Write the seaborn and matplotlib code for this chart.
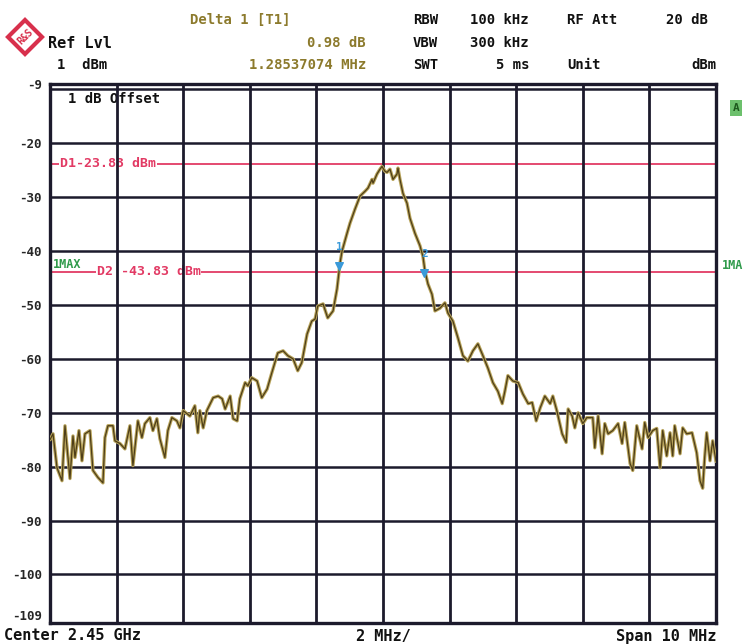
import matplotlib
matplotlib.use("Agg")
import matplotlib.pyplot as plt
import seaborn as sns
import numpy as np
import pandas as pd
from matplotlib.patches import Polygon

# ---------------- data ----------------
freq_offset_mhz = [
    -5.00, -4.955, -4.895, -4.82, -4.775, -4.70, -4.655, -4.625, -4.565, -4.52, -4.475, -4.40,
    -4.355, -4.28, -4.205, -4.175, -4.13, -4.055, -4.025, -3.95, -3.875, -3.80, -3.755, -3.68,
    -3.62, -3.575, -3.50, -3.455, -3.395, -3.35, -3.275, -3.23, -3.17, -3.095, -3.05, -3.00,
    -2.90, -2.825, -2.78, -2.75, -2.70, -2.645, -2.55, -2.475, -2.415, -2.37, -2.295, -2.25,
    -2.19, -2.15, -2.07, -2.03, -1.97, -1.89, -1.82, -1.74, -1.67, -1.58, -1.50, -1.43,
    -1.35, -1.28, -1.22, -1.14, -1.07, -1.02, -0.98, -0.90, -0.83, -0.75, -0.69, -0.645,
    -0.615, -0.54, -0.495, -0.42, -0.345, -0.27, -0.225, -0.165, -0.15, -0.09, -0.045, -0.015,
    0.03, 0.06, 0.105, 0.15, 0.21, 0.225, 0.255, 0.30, 0.36, 0.405, 0.48, 0.555,
    0.60, 0.63, 0.675, 0.735, 0.78, 0.855, 0.93, 0.975, 1.05, 1.125, 1.20, 1.275,
    1.35, 1.425, 1.50, 1.575, 1.65, 1.725, 1.79, 1.83, 1.875, 1.95, 2.03, 2.10,
    2.18, 2.24, 2.30, 2.36, 2.43, 2.51, 2.55, 2.61, 2.69, 2.75, 2.78, 2.84,
    2.88, 2.93, 3.00, 3.06, 3.15, 3.18, 3.23, 3.29, 3.33, 3.38, 3.45, 3.53,
    3.59, 3.63, 3.71, 3.75, 3.81, 3.89, 3.93, 3.98, 4.05, 4.11, 4.16, 4.20,
    4.26, 4.31, 4.35, 4.38, 4.46, 4.50, 4.56, 4.64, 4.71, 4.76, 4.80, 4.83,
    4.86, 4.91, 4.95, 5.00,
]
level_dbm = [
    -75.0, -73.9, -80.2, -82.6, -72.4, -82.2, -74.3, -78.3, -73.3, -78.9, -73.9, -73.3,
    -80.7, -82.0, -83.0, -74.6, -72.4, -72.4, -75.2, -75.7, -76.7, -72.4, -79.8, -71.5,
    -74.6, -72.0, -70.9, -73.3, -71.1, -74.8, -78.3, -73.3, -70.9, -71.5, -72.8, -69.6,
    -70.6, -68.7, -73.7, -69.6, -72.8, -69.6, -67.2, -66.9, -67.4, -69.3, -66.9, -71.1,
    -71.5, -67.4, -64.4, -65.0, -63.5, -64.1, -67.2, -65.6, -62.6, -58.9, -58.5, -59.4,
    -60.0, -62.2, -60.7, -55.4, -53.0, -52.6, -50.2, -49.8, -52.4, -51.1, -47.0, -42.2,
    -40.0, -36.7, -34.8, -32.2, -29.8, -28.9, -28.3, -26.7, -27.4, -25.7, -24.8, -24.3,
    -25.2, -25.4, -24.8, -26.7, -25.7, -24.6, -26.7, -29.3, -31.1, -33.9, -36.7, -39.0,
    -41.0, -43.7, -46.1, -48.0, -51.1, -50.6, -49.6, -51.5, -53.0, -56.1, -59.4, -60.4,
    -58.5, -57.2, -59.4, -61.7, -64.4, -66.0, -68.3, -66.0, -63.1, -64.1, -64.4, -66.5,
    -68.3, -68.1, -71.5, -69.1, -66.9, -68.3, -66.9, -69.6, -73.9, -75.5, -69.3, -70.6,
    -72.8, -70.0, -72.0, -70.9, -70.9, -76.5, -70.6, -77.6, -72.0, -73.9, -73.3, -72.0,
    -75.7, -71.8, -79.4, -80.7, -72.4, -76.7, -71.8, -74.6, -73.3, -72.9, -80.2, -73.3,
    -78.0, -73.7, -78.0, -72.4, -77.6, -72.8, -73.9, -73.7, -77.4, -82.6, -84.0, -78.3,
    -73.7, -78.9, -75.2, -79.0,
]
display_lines_dbm = [-23.83, -43.83]
display_line_labels = ["D1-23.83 dBm", "D2 -43.83 dBm"]
marker_freq = [-0.66, 0.62]
marker_level = [-42.8, -44.1]
marker_names = ["1", "2"]
ytick_values = [-9, -20, -30, -40, -50, -60, -70, -80, -90, -100, -109]
ytick_labels = ["-9", "-20", "-30", "-40", "-50", "-60", "-70", "-80", "-90", "-100", "-109"]

df = pd.DataFrame({"f": freq_offset_mhz, "lvl": level_dbm})

# ---------------- figure ----------------
sns.set_style("white")
plt.rcParams["font.family"] = ["DejaVu Sans Mono", "DejaVu Sans"]
W, H = 743, 644
fig = plt.figure(figsize=(W / 100, H / 100), dpi=100)
fig.patch.set_facecolor("white")

def fx(px):
    return px / W

def fy(py):
    return 1 - py / H

ax = fig.add_axes([fx(50), fy(623), fx(716) - fx(50), fy(84) - fy(623)])
ax.set_xlim(-5, 5)
ax.set_ylim(-109, -9)

gridc = "#1c1a2c"
for v in range(-4, 5):
    ax.axvline(v, color=gridc, lw=2.0, zorder=2)
for v in range(-100, -9, 10):
    ax.axhline(v, color=gridc, lw=1.8, zorder=2)

redc = "#e23a64"
for lvl in display_lines_dbm:
    ax.axhline(lvl, color=redc, lw=1.3, zorder=1)

# trace
sns.lineplot(data=df, x="f", y="lvl", ax=ax, color="#b8a45c", lw=2.4, zorder=3, sort=False)
sns.lineplot(data=df, x="f", y="lvl", ax=ax, color="#4e3e18", lw=0.9, zorder=3.1, sort=False)

# markers
bluec = "#3a9ad9"
ax.scatter(marker_freq, marker_level, marker="v", s=30, color=bluec, zorder=4)
for mf, ml, mn in zip(marker_freq, marker_level, marker_names):
    ax.text(mf, ml + 3.6, mn, color=bluec, fontsize=8, ha="center", va="center",
            fontweight="bold", zorder=4)

# display line labels
tkw = dict(fontsize=9.5, fontweight="bold", va="center", zorder=1.5,
           bbox=dict(facecolor="white", edgecolor="none", pad=0.5))
ax.text(-4.85, display_lines_dbm[0], display_line_labels[0], color=redc, ha="left", **tkw)
ax.text(-4.3, display_lines_dbm[1], display_line_labels[1], color=redc, ha="left", **tkw)
ax.text(-4.95, -42.5, "1MAX", color="#2e9a4a", fontsize=8.5, fontweight="bold",
        ha="left", va="center", zorder=1.6)
ax.text(-4.73, -11.7, "1 dB Offset", color="#111111", fontsize=10, fontweight="bold",
        ha="left", va="center", zorder=1.5)

ax.set_yticks(ytick_values)
ax.set_yticklabels(ytick_labels)
ax.set_xticks([])
ax.tick_params(axis="y", length=0, pad=6, labelsize=9)
ylabs = ax.get_yticklabels()
for lab in ylabs:
    lab.set_fontweight("bold")
ylabs[-1].set_va("bottom")
ax.set_xlabel("")
ax.set_ylabel("")
for s in ax.spines.values():
    s.set_visible(True)
    s.set_color(gridc)
    s.set_linewidth(2.4)

# ---------------- header text ----------------
olive = "#8c7a2c"
hk = dict(fontsize=10, fontweight="bold", va="center")
fig.text(fx(190), fy(20), "Delta 1 [T1]", color=olive, ha="left", **hk)
fig.text(fx(366), fy(43), "0.98 dB", color=olive, ha="right", **hk)
fig.text(fx(366), fy(65), "1.28537074 MHz", color=olive, ha="right", **hk)
fig.text(fx(48), fy(44), "Ref Lvl", color="#111111", ha="left", fontsize=11, fontweight="bold", va="center")
fig.text(fx(57), fy(65), "1  dBm", color="#111111", ha="left", **hk)
fig.text(fx(413), fy(20), "RBW", color="#111111", ha="left", **hk)
fig.text(fx(470), fy(20), "100 kHz", color="#111111", ha="left", **hk)
fig.text(fx(567), fy(20), "RF Att", color="#111111", ha="left", **hk)
fig.text(fx(708), fy(20), "20 dB", color="#111111", ha="right", **hk)
fig.text(fx(413), fy(43), "VBW", color="#111111", ha="left", **hk)
fig.text(fx(470), fy(43), "300 kHz", color="#111111", ha="left", **hk)
fig.text(fx(413), fy(65), "SWT", color="#111111", ha="left", **hk)
fig.text(fx(530), fy(65), "5 ms", color="#111111", ha="right", **hk)
fig.text(fx(567), fy(65), "Unit", color="#111111", ha="left", **hk)
fig.text(fx(716), fy(65), "dBm", color="#111111", ha="right", **hk)

bk = dict(fontsize=11, fontweight="bold", va="center", color="#111111")
fig.text(fx(4), fy(636), "Center 2.45 GHz", ha="left", **bk)
fig.text(fx(383), fy(636), "2 MHz/", ha="center", **bk)
fig.text(fx(716), fy(636), "Span 10 MHz", ha="right", **bk)

# right side annotations
fig.text(fx(736), fy(108), "A", color="#1d5a1d", fontsize=8, fontweight="bold", ha="center", va="center",
         bbox=dict(facecolor="#6cc06c", edgecolor="none", pad=2))
fig.text(fx(722), fy(265), "1MA", color="#2e9a4a", fontsize=8.5, fontweight="bold", ha="left", va="center")

# R&S logo
cx, cy, r = 25, 37, 17
logo = Polygon([(fx(cx), fy(cy - r)), (fx(cx + r), fy(cy)), (fx(cx), fy(cy + r)), (fx(cx - r), fy(cy))],
               closed=True, transform=fig.transFigure, facecolor="white", edgecolor="#d8304c", lw=3)
fig.patches.append(logo)
fig.text(fx(cx), fy(cy), "R&S", color="#d8304c", fontsize=7, fontweight="bold", rotation=45,
         ha="center", va="center")

fig.savefig("out.png", dpi=100, facecolor="white")
